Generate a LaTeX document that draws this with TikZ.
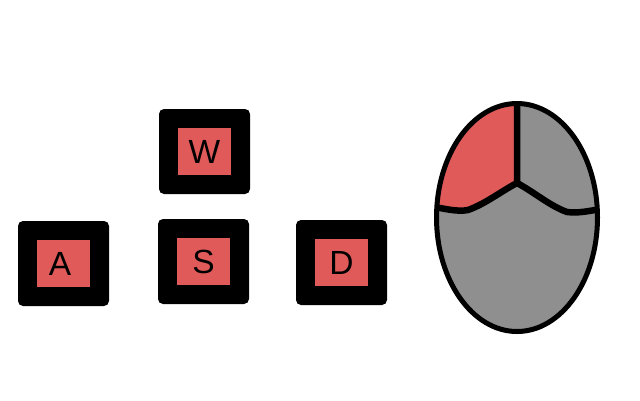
\documentclass[tikz,border=0pt]{standalone}
\usepackage{fontspec}
\setmainfont{Liberation Sans}
\definecolor{keyred}{HTML}{E05A5A}
\definecolor{mousegray}{HTML}{8F8F8F}
\tikzset{
  keycap/.style={fill=black,draw=none,rounded corners=5pt,minimum width=91pt,minimum height=85pt,inner sep=0pt,outer sep=0pt},
  keyface/.style={fill=keyred,draw=none,minimum width=53pt,minimum height=47pt,inner sep=0pt,outer sep=0pt},
  keylabel/.style={inner sep=0pt,outer sep=0pt,text=black,font=\fontsize{33.5pt}{33.5pt}\selectfont},
  mouseline/.style={draw=black,line width=5pt},
  mousesplit/.style={draw=black,line width=6.5pt,line join=round}
}
\begin{document}
\begin{tikzpicture}[x=1pt,y=-1pt]
\useasboundingbox (0,0) rectangle (640,400);
% keys
\node[keycap] (capW) at (204.5,151.5) {};
\node[keyface] (faceW) at (204.5,151.5) {};
\node[keylabel] (labW) at (204.5,152) {W};
\node[keycap] (capA) at (63.5,263.5) {};
\node[keyface] (faceA) at (63.5,263.5) {};
\node[keylabel] (labA) at (60,264) {A};
\node[keycap] (capS) at (203.5,261.5) {};
\node[keyface] (faceS) at (203.5,261.5) {};
\node[keylabel] (labS) at (203.5,262) {S};
\node[keycap] (capD) at (341.5,262.5) {};
\node[keyface] (faceD) at (341.5,262.5) {};
\node[keylabel] (labD) at (341.5,263) {D};
% mouse
\coordinate (mc) at (517,217.5);
\fill[mousegray] (mc) ellipse [x radius=80.5,y radius=114];
\begin{scope}
  \clip (mc) ellipse [x radius=80.5,y radius=114];
  \fill[keyred] (517,90) -- (517,183)
    .. controls (500,192) and (485,204) .. (468,210)
    .. controls (458,212) and (445,209) .. (430,206) -- (430,90) -- cycle;
  \draw[mousesplit] (517,90) -- (517,183)
    .. controls (500,192) and (485,204) .. (468,210)
    .. controls (458,212) and (445,209) .. (430,206);
  \draw[mousesplit] (517,183)
    .. controls (534,192) and (550,206) .. (567,212)
    .. controls (578,213.5) and (590,211) .. (605,208);
\end{scope}
\draw[mouseline] (mc) ellipse [x radius=80.5,y radius=114];
\end{tikzpicture}
\end{document}
